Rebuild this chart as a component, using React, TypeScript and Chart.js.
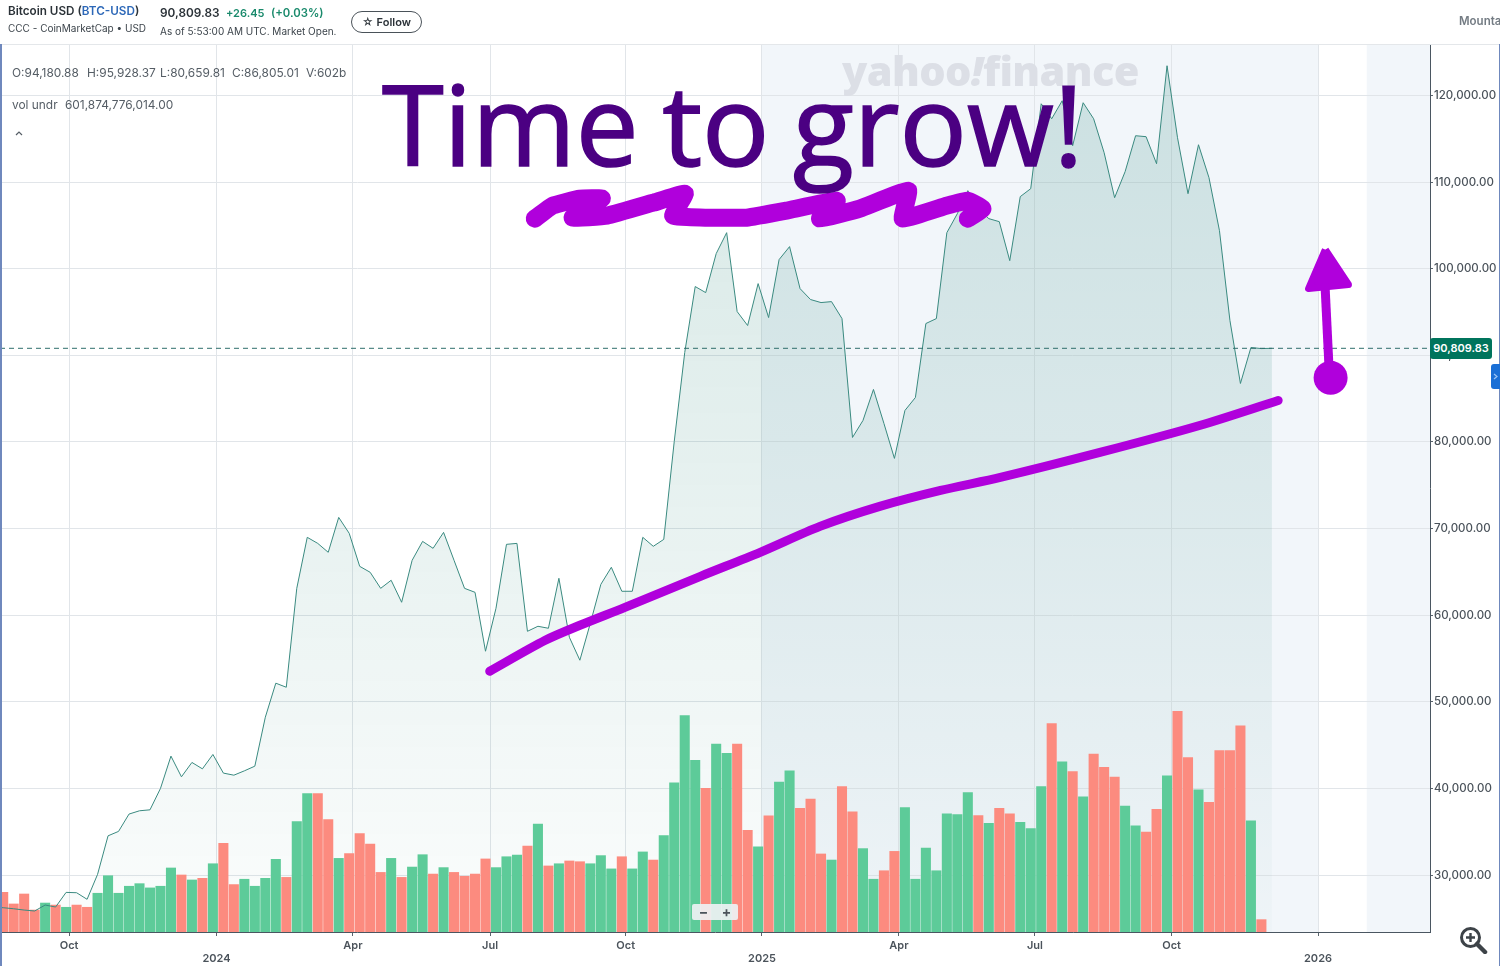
import React, { useEffect, useRef } from "react";
import { Chart, registerables } from "chart.js";

Chart.register(...registerables);

// Weekly closing price; the first element sits one week before the first volume bar.
const priceValues = [
  26300, 26230, 26110, 25960, 25850, 26540, 26310, 28000, 27960, 27200, 30080, 34530, 35040, 37040, 37420, 37530,
  40000, 43730, 41340, 43000, 42260, 43920, 41770, 41530, 42030, 42570, 48220, 52150, 51680, 63100, 68990, 68290,
  67260, 71290, 69450, 65640, 64950, 63100, 64030, 61490, 66330, 68520, 67720, 69560, 66330, 63100, 62640, 55840,
  60800, 68180, 68290, 58140, 58720, 58490, 64260, 57450, 54800, 59070, 63560, 65530, 62760, 62760, 68990, 67950,
  68750, 80060, 90320, 97940, 97240, 101740, 104160, 95050, 93440, 98280, 94360, 101050, 102550, 97700, 96440, 96090,
  96200, 94240, 80520, 82480, 86060, 82130, 78100, 83630, 85130, 93670, 94240, 104160, 106350, 109010, 106930, 105780,
  105430, 100930, 108320, 109240, 119040, 117310, 119390, 114200, 119160, 117310, 113390, 108200, 111200, 115350,
  115240, 112120, 123430, 115120, 108660, 114310, 110510, 104390, 94010, 86750, 90900, 90780, 90809.83,
];

// Weekly volume in billions, with direction: u = up week, d = down week.
const volumeValues = [
  215, 152, 206, 119, 157, 146, 134, 146, 134, 210, 305, 210, 248, 262, 239, 248, 347, 309, 282, 291, 370, 481, 257,
  286, 248, 291, 394, 296, 598, 750, 750, 609, 399, 425, 533, 477, 323, 399, 296, 352, 419, 314, 349, 323, 302, 314,
  396, 349, 408, 417, 466, 585, 358, 370, 385, 381, 370, 414, 342, 408, 342, 434, 390, 522, 808, 1173, 931, 779, 1019,
  969, 1019, 551, 461, 629, 813, 873, 670, 721, 423, 390, 788, 651, 452, 286, 332, 437, 674, 286, 455, 332, 641, 636,
  755, 631, 589, 670, 641, 595, 560, 788, 1129, 922, 869, 732, 965, 893, 840, 683, 575, 542, 665, 846, 1196, 945, 770,
  703, 983, 983, 1117, 602, 67,
];
const volumeDirections = [
  "ddddududdu",
  "uuuuuuudud",
  "udduuuuduu",
  "dduddddudu",
  "ududddduuu",
  "dududduuud",
  "uuduuuuduu",
  "dduduudddu",
  "dduudduuuu",
  "uuududduuu",
  "dududdduud",
  "dudduddddud",
].join("");

const latestPrice = 90809.83;

// Hand-drawn marks, in chart units (week index, price).
const trendWeeks = [46.4, 51.7, 55, 59.3, 66.5, 72.2, 77.9, 83.6, 89.4, 95.1, 104.6, 114.1, 121.6];
const trendPrices = [53530, 57105, 58835, 60910, 64490, 67255, 70250, 72560, 74405, 75905, 78790, 81900, 84790];
const scribbleWeeks = [50.7, 52.4, 55, 57.1, 54.3, 57.6, 62, 65, 63.9, 67.1, 70.9, 74.7, 79.5, 77.9, 81.7, 86.3, 85.8, 90, 92, 93.4, 92];
const scribblePrices = [105780, 107280, 108090, 108090, 105890, 106120, 107620, 108660, 106120, 105890, 105890, 106700, 107850, 105780, 106930, 109010, 105780, 107280, 107850, 106930, 105780];
const shaftWeeks = [126.5, 126];
const shaftPrices = [87320, 99780];
const arrowHeadWeeks = [126.1, 124.5, 128.3, 126.1];
const arrowHeadPrices = [102200, 97700, 98170, 102200];
const blobWeeks = [126.6];
const blobPrices = [87400];

// Axes
const tickWeeks = [6.28, 20.34, 33.36, 46.43, 59.37, 72.37, 85.43, 98.4, 111.43, 125.4];
const tickLabels: (string | string[])[] = ["Oct", ["", "2024"], "Apr", "Jul", "Oct", ["", "2025"], "Apr", "Jul", "Oct", ["", "2026"]];
const priceTicks = [30000, 40000, 50000, 60000, 70000, 80000, 90000, 100000, 110000, 120000];
const bandRanges = [[72.37, 125.4], [130.05, 136.08]];

const AXIS_MIN = -0.305;
const AXIS_MAX = 136.08;
const PRICE_MIN = 23426;
const PRICE_MAX = 125940;
const VOLUME_MAX = 4813;

const pairs = (xs: number[], ys: number[]) => xs.map((x, i) => ({ x, y: ys[i] }));
const PURPLE = "#b000dc";
const UI = "Inter, 'Liberation Sans', sans-serif";

const bandsPlugin = {
  id: "bands",
  beforeDraw(chart: any) {
    const { ctx, chartArea, scales } = chart;
    ctx.save();
    ctx.fillStyle = "#f2f6fa";
    for (const [a, b] of bandRanges) {
      const l = scales.x.getPixelForValue(a);
      const r = scales.x.getPixelForValue(b);
      ctx.fillRect(l, chartArea.top, r - l, chartArea.bottom - chartArea.top);
    }
    ctx.restore();
  },
};

const text = (style: React.CSSProperties): React.CSSProperties => ({
  position: "absolute",
  whiteSpace: "nowrap",
  fontFamily: UI,
  lineHeight: 1,
  ...style,
});

export default function App() {
  const ref = useRef<HTMLCanvasElement | null>(null);

  useEffect(() => {
    const pricePoints = priceValues.map((y, i) => ({ x: i - 1, y }));
    const chart = new Chart(ref.current as HTMLCanvasElement, {
      type: "line",
      plugins: [bandsPlugin],
      data: {
        datasets: [
          {
            type: "line",
            order: 0,
            data: pairs(blobWeeks, blobPrices),
            showLine: false,
            pointRadius: 17,
            pointBackgroundColor: PURPLE,
            pointBorderWidth: 0,
          },
          {
            type: "line",
            order: 0,
            data: pairs(arrowHeadWeeks, arrowHeadPrices),
            fill: "shape",
            backgroundColor: PURPLE,
            borderColor: PURPLE,
            borderWidth: 7,
            borderJoinStyle: "round",
            pointRadius: 0,
          },
          {
            type: "line",
            order: 0,
            data: pairs(shaftWeeks, shaftPrices),
            borderColor: PURPLE,
            borderWidth: 9,
            pointRadius: 0,
          },
          {
            type: "line",
            order: 0,
            data: pairs(scribbleWeeks, scribblePrices),
            borderColor: PURPLE,
            borderWidth: 18,
            borderCapStyle: "round",
            borderJoinStyle: "round",
            tension: 0.1,
            pointRadius: 0,
          },
          {
            type: "line",
            order: 0,
            data: pairs(trendWeeks, trendPrices),
            borderColor: PURPLE,
            borderWidth: 9,
            borderCapStyle: "round",
            borderJoinStyle: "round",
            tension: 0.3,
            pointRadius: 0,
          },
          {
            type: "line",
            order: 1,
            data: [
              { x: AXIS_MIN, y: latestPrice },
              { x: AXIS_MAX, y: latestPrice },
            ],
            borderColor: "#2f6f6c",
            borderWidth: 1,
            borderDash: [5, 4],
            pointRadius: 0,
          },
          {
            type: "line",
            order: 2,
            data: pricePoints,
            borderColor: "#3a8a80",
            borderWidth: 1,
            pointRadius: 0,
          },
          {
            type: "bar",
            order: 3,
            yAxisID: "vol",
            data: volumeValues.map((y, i) => ({ x: i, y })),
            backgroundColor: volumeValues.map((_, i) => (volumeDirections[i] === "u" ? "#5dcb99" : "#fc8b7f")),
            barThickness: 9.4,
            borderWidth: 0,
          },
          {
            type: "line",
            order: 4,
            data: pricePoints,
            borderWidth: 0,
            pointRadius: 0,
            fill: "start",
            backgroundColor: (c: any) => {
              const area = c.chart.chartArea;
              if (!area) return "rgba(0,110,110,0.1)";
              const g = c.chart.ctx.createLinearGradient(0, 60, 0, area.bottom);
              g.addColorStop(0, "rgba(0,110,95,0.16)");
              g.addColorStop(0.45, "rgba(0,110,95,0.10)");
              g.addColorStop(1, "rgba(0,110,95,0.015)");
              return g;
            },
          },
        ] as any,
      },
      options: {
        animation: false,
        responsive: false,
        layout: { autoPadding: false, padding: { top: 44, left: 0, right: 0, bottom: 0 } },
        plugins: { legend: { display: false }, tooltip: { enabled: false } },
        events: [],
        scales: {
          x: {
            type: "linear",
            bounds: "data",
            min: AXIS_MIN,
            max: AXIS_MAX,
            offset: false,
            afterBuildTicks: (s: any) => {
              s.ticks = tickWeeks.map((value) => ({ value }));
            },
            afterFit: (s: any) => {
              s.height = 34;
              s.paddingLeft = 0;
              s.paddingRight = 0;
            },
            grid: { color: "#e1e5e9", lineWidth: 1, tickLength: 4, tickColor: "#5a646d", offset: false },
            border: { color: "#4a5661", width: 1 },
            ticks: {
              autoSkip: false,
              maxRotation: 0,
              padding: 3,
              color: "#4b535b",
              font: { family: UI, size: 11, weight: 600, lineHeight: 1.18 },
              callback: (v: any) => {
                const i = tickWeeks.indexOf(v);
                return i >= 0 ? tickLabels[i] : "";
              },
            },
          },
          y: {
            type: "linear",
            position: "right",
            bounds: "data",
            min: PRICE_MIN,
            max: PRICE_MAX,
            afterBuildTicks: (s: any) => {
              s.ticks = priceTicks.map((value) => ({ value }));
            },
            afterFit: (s: any) => {
              s.width = 70;
              s.paddingTop = 0;
              s.paddingBottom = 0;
            },
            grid: { color: "#e1e5e9", lineWidth: 1, tickLength: 3, tickColor: "#5a646d" },
            border: { color: "#4a5661", width: 1 },
            ticks: {
              padding: 1,
              color: "#4b535b",
              font: { family: UI, size: 11.5, weight: 500 },
              callback: (v: any) =>
                Number(v).toLocaleString("en-US", { minimumFractionDigits: 2, maximumFractionDigits: 2 }),
            },
          },
          vol: {
            type: "linear",
            position: "right",
            display: false,
            bounds: "data",
            min: 0,
            max: VOLUME_MAX,
            afterFit: (s: any) => {
              s.width = 0;
            },
          },
        },
      } as any,
    });
    return () => chart.destroy();
  }, []);

  return (
    <div style={{ position: "absolute", left: 0, top: 0, width: 1500, height: 966, overflow: "hidden", background: "#fff" }}>
      <canvas ref={ref} width={1500} height={966} style={{ position: "absolute", left: 0, top: 0, display: "block" }} />
      {/* frame */}
      <div style={{ position: "absolute", left: 0, top: 44, width: 1500, height: 1, background: "#e4e7ea" }} />
      <div style={{ position: "absolute", left: 0, top: 44, width: 2, height: 922, background: "#6f88bd" }} />
      <div style={{ position: "absolute", left: 1499, top: 44, width: 1, height: 922, background: "#6f88bd" }} />

      {/* header */}
      <div style={text({ left: 8, top: 6, fontSize: 11.7, fontWeight: 600, color: "#2b3238" })}>
        Bitcoin USD (<span style={{ color: "#2d68b8" }}>BTC-USD</span>)
      </div>
      <div style={text({ left: 8, top: 23, fontSize: 10, color: "#3c444b" })}>CCC - CoinMarketCap • USD</div>
      <div style={text({ left: 160, top: 8, fontSize: 11.8, fontWeight: 600, color: "#2b3238" })}>90,809.83</div>
      <div style={text({ left: 226, top: 8, fontSize: 11, fontWeight: 600, color: "#1a8a6c" })}>+26.45</div>
      <div style={text({ left: 271, top: 8, fontSize: 11.3, fontWeight: 600, color: "#1a8a6c" })}>(+0.03%)</div>
      <div style={text({ left: 160, top: 26, fontSize: 10, color: "#3c444b" })}>As of 5:53:00 AM UTC. Market Open.</div>
      <div
        style={text({
          left: 351,
          top: 11,
          width: 69,
          height: 20,
          border: "1px solid #4a5259",
          borderRadius: 11,
          display: "flex",
          alignItems: "center",
          justifyContent: "center",
          gap: 3,
          fontSize: 11,
          fontWeight: 600,
          color: "#2b3238",
        })}
      >
        <span style={{ fontSize: 11 }}>☆</span>
        <span>Follow</span>
      </div>
      <div style={text({ left: 1459, top: 16, fontSize: 11.5, fontWeight: 600, color: "#737b83" })}>Mountain</div>

      {/* OHLC */}
      {[
        ["O:94,180.88", 12],
        ["H:95,928.37", 87],
        ["L:80,659.81", 160],
        ["C:86,805.01", 232],
        ["V:602b", 306],
      ].map(([t, x]) => (
        <div key={t as string} style={text({ left: x as number, top: 67, fontSize: 11.9, color: "#555d65" })}>
          {t}
        </div>
      ))}
      <div style={text({ left: 12, top: 99, fontSize: 11.9, color: "#555d65" })}>vol undr</div>
      <div style={text({ left: 65, top: 99, fontSize: 11.9, color: "#555d65" })}>601,874,776,014.00</div>
      <svg style={{ position: "absolute", left: 15, top: 130 }} width="8" height="6">
        <path d="M1 5 L4 2 L7 5" fill="none" stroke="#555d65" strokeWidth="1.2" />
      </svg>

      {/* watermark */}
      <div
        style={text({
          left: 842,
          top: 50,
          fontFamily: "'Open Sans', sans-serif",
          fontSize: 41.5,
          fontWeight: 800,
          letterSpacing: -0.6,
          color: "#dcdfe6",
        })}
      >
        yahoo<span style={{ fontStyle: "italic" }}>!</span>finance
      </div>

      {/* title */}
      <div
        style={text({
          left: 382,
          top: 67,
          fontFamily: "'Open Sans', sans-serif",
          fontSize: 112,
          fontWeight: 400,
          wordSpacing: -5.5,
          color: "#4b0082",
          WebkitTextStroke: "1.6px #4b0082",
        })}
      >
        Time to grow!
      </div>

      {/* price badge */}
      <div
        style={text({
          left: 1430,
          top: 338,
          width: 62,
          height: 21,
          background: "#00745c",
          borderRadius: 3,
          color: "#fff",
          fontSize: 11,
          fontWeight: 600,
          display: "flex",
          alignItems: "center",
          justifyContent: "center",
        })}
      >
        90,809.83
      </div>
      <div style={{ position: "absolute", left: 1491, top: 364, width: 9, height: 25, background: "#1a6fd6", borderRadius: "3px 0 0 3px" }} />
      <svg style={{ position: "absolute", left: 1493, top: 373 }} width="5" height="7">
        <path d="M1 1 L4 3.5 L1 6" fill="none" stroke="#9cc4f5" strokeWidth="1.2" />
      </svg>

      {/* zoom widget */}
      <div
        style={text({
          left: 692,
          top: 904,
          width: 46,
          height: 16,
          background: "rgba(238,241,243,0.92)",
          borderRadius: 2,
          display: "flex",
          alignItems: "center",
          justifyContent: "space-around",
          fontSize: 14,
          fontWeight: 700,
          color: "#4b535b",
        })}
      >
        <span>−</span>
        <span>+</span>
      </div>

      {/* magnifier */}
      <svg style={{ position: "absolute", left: 1459, top: 926 }} width="29" height="28" viewBox="0 0 29 28">
        <circle cx="11.5" cy="11.5" r="9" fill="none" stroke="#3d4348" strokeWidth="3" />
        <path d="M18 18 L26 26" stroke="#3d4348" strokeWidth="4.5" strokeLinecap="round" />
        <path d="M7 11.5 H16 M11.5 7 V16" stroke="#3d4348" strokeWidth="2.4" />
      </svg>
    </div>
  );
}
